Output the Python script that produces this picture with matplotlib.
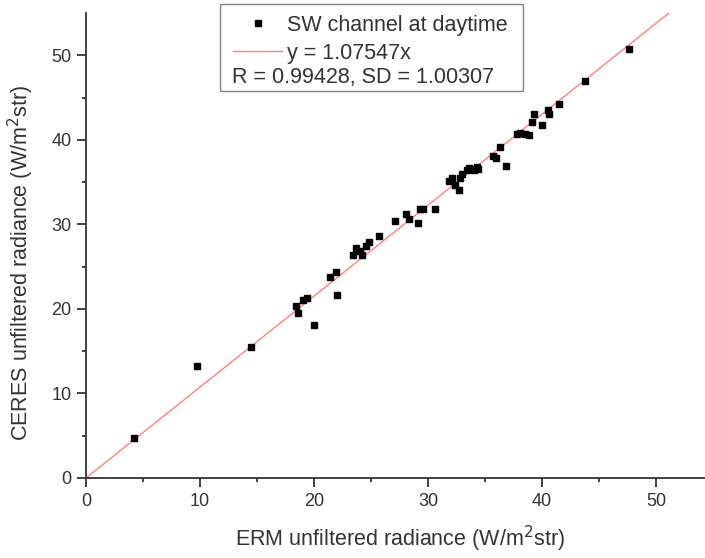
import matplotlib
matplotlib.use("Agg")
import matplotlib.pyplot as plt
import numpy as np
from matplotlib.lines import Line2D
from matplotlib.patches import Rectangle

plt.rcParams['font.family'] = ['Liberation Sans', 'DejaVu Sans']

# ERM (x) vs CERES (y) unfiltered radiance
erm = [4.2, 9.7, 14.5, 18.4, 18.6, 19.0, 19.4, 20.0, 21.4, 21.9, 22.0,
       23.4, 23.7, 24.0, 24.2, 24.6, 24.8, 25.7, 27.1, 28.1, 28.3, 29.1,
       29.3, 29.6, 30.6, 31.8, 32.1, 32.4, 32.7, 32.8, 33.4, 33.7, 34.0,
       34.3, 34.4, 33.0, 33.6, 35.7, 36.0, 36.3, 36.8, 37.8, 38.1, 38.5,
       38.9, 39.1, 39.3, 40.0, 40.5, 40.6, 41.5, 43.8, 47.6]
ceres = [4.7, 13.2, 15.5, 20.4, 19.5, 21.0, 21.3, 18.1, 23.8, 24.4, 21.7,
         26.4, 27.2, 26.8, 26.4, 27.5, 27.9, 28.6, 30.4, 31.2, 30.6, 30.2,
         31.8, 31.8, 31.8, 35.1, 35.5, 34.6, 34.1, 35.5, 36.4, 36.6, 36.4,
         36.8, 36.5, 36.0, 36.7, 38.1, 37.9, 39.2, 36.9, 40.7, 40.8, 40.7,
         40.6, 42.1, 43.0, 41.8, 43.5, 43.0, 44.2, 46.9, 50.7]

slope = 1.07547
r_value = 0.99428
sd_value = 1.00307

fig = plt.figure(figsize=(7.05, 5.58), dpi=100)
ax = fig.add_axes([86 / 705, 80 / 558, 619 / 705, 465 / 558])

xmax, ymax = 54.3, 55.0
ax.set_xlim(0, xmax)
ax.set_ylim(0, ymax)

# fit line through origin
xf = np.array([0, ymax / slope])
ax.plot(xf, slope * xf, color='#ff7f7f', lw=1.0, zorder=2)
ax.plot(erm, ceres, 's', color='black', ms=4.4, zorder=3)

for side in ['top', 'right']:
    ax.spines[side].set_visible(False)
for side in ['left', 'bottom']:
    ax.spines[side].set_linewidth(1.3)
    ax.spines[side].set_color('#333333')

ax.set_xticks([0, 10, 20, 30, 40, 50])
ax.set_yticks([0, 10, 20, 30, 40, 50])
ax.set_xticks(np.arange(5, 55, 10), minor=True)
ax.set_yticks(np.arange(5, 55, 10), minor=True)
ax.tick_params(which='major', direction='out', length=6.5, width=1.3,
               color='#333333', labelsize=13, labelcolor='#333333', pad=4)
ax.tick_params(which='minor', direction='out', length=3.2, width=1.3,
               color='#333333')

ax.set_xlabel('ERM unfiltered radiance (W/m$^2$str)', fontsize=15.5,
              color='#333333')
ax.set_ylabel('CERES unfiltered radiance (W/m$^2$str)', fontsize=15.5,
              color='#333333')
ax.xaxis.set_label_coords(0.507, -0.098)
ax.yaxis.set_label_coords(-0.080, 0.462)

# legend box
fig.patches.append(Rectangle((220 / 705, 1 - 91 / 558), 303 / 705, 87 / 558,
                             transform=fig.transFigure, fill=False,
                             edgecolor='#888888', lw=1.0))
handles = [Line2D([], [], ls='none', marker='s', color='black', ms=4.4),
           Line2D([], [], color='#ff7f7f', lw=1.0)]
fig.legend(handles, ['SW channel at daytime', 'y = %.5fx' % slope],
           loc='upper left', bbox_to_anchor=(222 / 705, 1 - 4 / 558),
           frameon=False, fontsize=15.5, handlelength=2.3,
           handletextpad=0.2, borderpad=0, labelspacing=0.32,
           labelcolor='#333333')
fig.text(232 / 705, 1 - 78 / 558,
         'R = %.5f, SD = %.5f' % (r_value, sd_value),
         fontsize=15.5, color='#333333', va='center', ha='left')

fig.savefig('out.png', dpi=100)
